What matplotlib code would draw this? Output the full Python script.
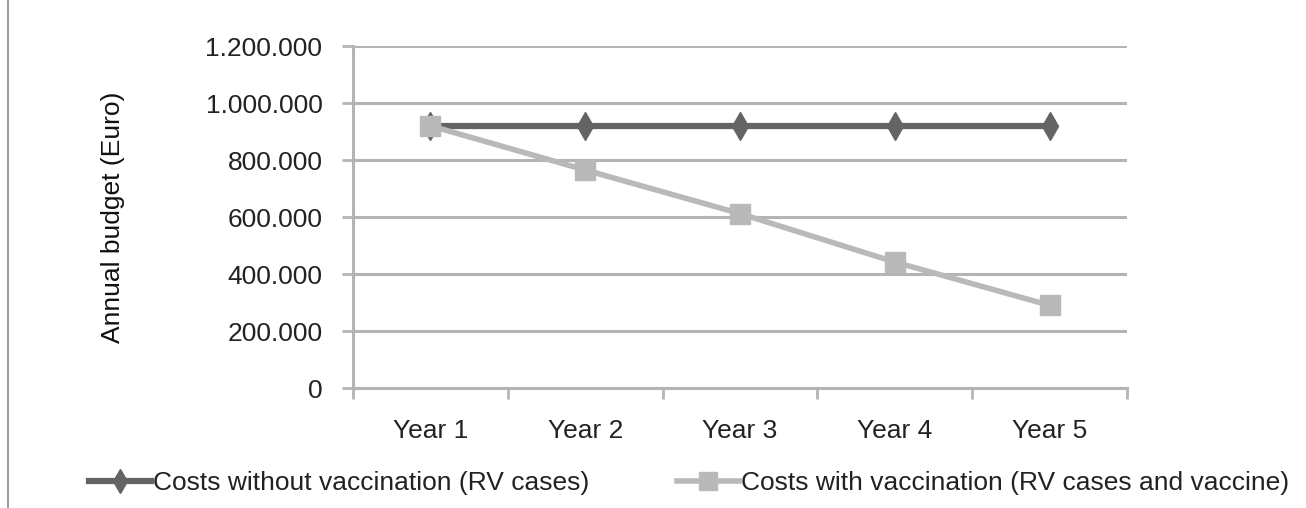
import matplotlib
matplotlib.use('Agg')
import matplotlib.pyplot as plt
from matplotlib.lines import Line2D
from matplotlib.ticker import FuncFormatter, FixedLocator
import numpy as np

plt.rcParams['font.family'] = ['Liberation Sans', 'DejaVu Sans']

years = ['Year 1', 'Year 2', 'Year 3', 'Year 4', 'Year 5']
costs_without = [920000, 920000, 920000, 920000, 920000]
costs_with = [920000, 765000, 612000, 442000, 290000]
label_without = 'Costs without vaccination (RV cases)'
label_with = 'Costs with vaccination (RV cases and vaccine)'
y_ticks = [0, 200000, 400000, 600000, 800000, 1000000, 1200000]

dark = '#646464'
light = '#b9b9b9'
grid_col = '#b4b4b4'
fs = 19


def dot_thousands(v, pos):
    return '{:,.0f}'.format(v).replace(',', '.')


fig = plt.figure(figsize=(13.06, 5.08), dpi=100)
ax = fig.add_axes([0.2703, 0.2362, 0.5927, 0.6732])

x = np.arange(1, len(years) + 1)
ax.plot(x, costs_without, color=dark, lw=4.5, marker='d', ms=14,
        mec=dark, mfc=dark, label=label_without, zorder=3)
ax.plot(x, costs_with, color=light, lw=4, marker='s', ms=15,
        mec=light, mfc=light, label=label_with, zorder=4)

ax.set_xlim(0.5, 5.5)
ax.set_ylim(0, 1200000)
ax.set_yticks(y_ticks)
ax.yaxis.set_major_formatter(FuncFormatter(dot_thousands))
ax.set_xticks(x)
ax.set_xticklabels(years)
ax.xaxis.set_minor_locator(FixedLocator([0.5, 1.5, 2.5, 3.5, 4.5, 5.5]))

ax.grid(axis='y', color=grid_col, lw=2.2, zorder=0)
for s in ['top', 'right']:
    ax.spines[s].set_visible(False)
ax.spines['left'].set_color(grid_col)
ax.spines['left'].set_linewidth(2.2)
ax.spines['bottom'].set_color(grid_col)
ax.spines['bottom'].set_linewidth(2.2)
ax.tick_params(axis='y', length=8, width=2, color=grid_col, labelsize=fs,
               pad=14, labelcolor='#222222')
ax.tick_params(axis='x', which='major', length=0, labelsize=fs, pad=22,
               labelcolor='#222222')
ax.tick_params(axis='x', which='minor', length=8, width=2, color=grid_col)

ax.set_ylabel('Annual budget (Euro)', fontsize=fs, color='#111111', labelpad=58)

handles, labels = ax.get_legend_handles_labels()
fig.legend(handles, labels, loc='center', bbox_to_anchor=(0.5276, 0.049),
           ncol=2, frameon=False, fontsize=fs, handlelength=2.35,
           handletextpad=0.1, columnspacing=3.3, labelcolor='#222222',
           markerscale=0.85)

# thin frame line at the left edge
fig.add_artist(Line2D([0.0065, 0.0065], [0, 1], color='#8a8a8a', lw=1.2,
                      transform=fig.transFigure))

fig.savefig('out.png', dpi=100)
